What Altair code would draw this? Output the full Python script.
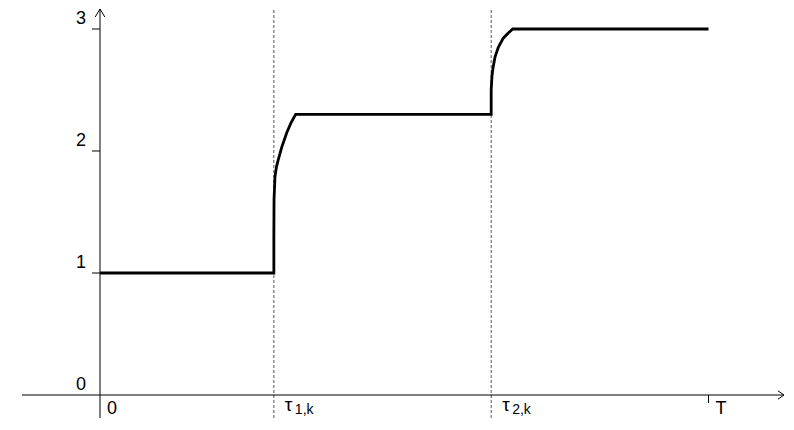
import altair as alt
import pandas as pd

FONT = "Liberation Sans"

# ---- values ----
T_END = 7.0
TAUS = [2.0, 4.5]
TAU_SUBS = ["1,k", "2,k"]
Y_TICKS = [1, 2, 3]
Y_LABEL_VALUES = [0, 1, 2, 3]
Y_LABELS = ["0", "1", "2", "3"]
X_NUM_VALUES = [0.0, 7.0]
X_NUM_LABELS = ["0", "T"]

CURVE_T = [0.0, 2.0, 2.0, 2.002, 2.013, 2.03, 2.051, 2.09, 2.148, 2.197, 2.251,
           4.5, 4.5, 4.509, 4.521, 4.544, 4.582, 4.639, 4.694, 4.748, 7.0]
CURVE_Y = [1.0, 1.0, 1.27, 1.60, 1.79, 1.87, 1.93, 2.03, 2.15, 2.23, 2.30,
           2.30, 2.50, 2.615, 2.68, 2.77, 2.85, 2.925, 2.965, 3.0, 3.0]

X_DOMAIN = [-1.0583, 7.8914]
Y_DOMAIN = [-0.1885, 3.1721]
X_AXIS_RANGE = [-0.897, 7.868]
Y_AXIS_RANGE = [-0.1885, 3.164]
GUIDE_RANGE = [-0.1885, 3.1721]

xs = alt.Scale(domain=X_DOMAIN, nice=False, zero=False)
ys = alt.Scale(domain=Y_DOMAIN, nice=False, zero=False)


def X(f):
    return alt.X(f, type="quantitative", scale=xs, axis=None)


def Y(f):
    return alt.Y(f, type="quantitative", scale=ys, axis=None)


# dashed guides at tau
guides = pd.DataFrame({"t": TAUS, "y0": GUIDE_RANGE[0], "y1": GUIDE_RANGE[1]})
guide_layer = alt.Chart(guides).mark_rule(
    color="#555555", strokeWidth=1, strokeDash=[3, 2]
).encode(x=X("t"), y=Y("y0"), y2="y1")

# axes lines
xaxis = pd.DataFrame({"x0": [X_AXIS_RANGE[0]], "x1": [X_AXIS_RANGE[1]], "y": [0.0]})
xaxis_layer = alt.Chart(xaxis).mark_rule(color="black", strokeWidth=1).encode(
    x=X("x0"), x2="x1", y=Y("y"))
yaxis = pd.DataFrame({"x": [0.0], "y0": [Y_AXIS_RANGE[0]], "y1": [Y_AXIS_RANGE[1]]})
yaxis_layer = alt.Chart(yaxis).mark_rule(color="black", strokeWidth=1).encode(
    x=X("x"), y=Y("y0"), y2="y1")

# arrow heads
xarrow = pd.DataFrame({"x": [X_AXIS_RANGE[1]], "y": [0.0]})
xarrow_layer = alt.Chart(xarrow).mark_point(
    shape="M-1,-0.7L0,0L-1,0.7", size=144, filled=False, color="black",
    strokeWidth=1, opacity=1).encode(x=X("x"), y=Y("y"))
yarrow = pd.DataFrame({"x": [0.0], "y": [Y_AXIS_RANGE[1]]})
yarrow_layer = alt.Chart(yarrow).mark_point(
    shape="M-0.6,1L0,0L0.6,1", size=256, filled=False, color="black",
    strokeWidth=1, opacity=1).encode(x=X("x"), y=Y("y"))

# y ticks
yt = pd.DataFrame({"x": 0.0, "y": Y_TICKS})
ytick_layer = alt.Chart(yt).mark_rule(color="black", strokeWidth=1, x2Offset=-8).encode(
    x=X("x"), x2="x", y=Y("y"))
# T tick
tt = pd.DataFrame({"x": [T_END], "y": [0.0]})
ttick_layer = alt.Chart(tt).mark_rule(color="black", strokeWidth=1, y2Offset=8).encode(
    x=X("x"), y=Y("y"), y2="y")

# curve
curve = pd.DataFrame({"t": CURVE_T, "v": CURVE_Y, "i": range(len(CURVE_T))})
curve_layer = alt.Chart(curve).mark_line(
    color="black", strokeWidth=2.8, strokeJoin="miter", interpolate="linear"
).encode(x=X("t"), y=Y("v"), order="i:Q")

# labels
ylab = pd.DataFrame({"x": 0.0, "y": Y_LABEL_VALUES, "lab": Y_LABELS})
ylab_layer = alt.Chart(ylab).mark_text(
    font=FONT, fontSize=18, align="right", baseline="alphabetic", dx=-14, dy=-5,
    color="black").encode(x=X("x"), y=Y("y"), text="lab:N")

xlab = pd.DataFrame({"x": X_NUM_VALUES, "y": 0.0, "lab": X_NUM_LABELS})
xlab_layer = alt.Chart(xlab).mark_text(
    font=FONT, fontSize=18, align="left", baseline="alphabetic", dx=7, dy=19,
    color="black").encode(x=X("x"), y=Y("y"), text="lab:N")

taulab = pd.DataFrame({"x": TAUS, "y": 0.0, "lab": ["τ", "τ"], "sub": TAU_SUBS})
tau_layer = alt.Chart(taulab).mark_text(
    font=FONT, fontSize=19, align="left", baseline="alphabetic", dx=11, dy=16,
    color="black").encode(x=X("x"), y=Y("y"), text="lab:N")
sub_layer = alt.Chart(taulab).mark_text(
    font=FONT, fontSize=14, align="left", baseline="alphabetic", dx=21, dy=19,
    color="black").encode(x=X("x"), y=Y("y"), text="sub:N")

chart = alt.layer(
    guide_layer, xaxis_layer, yaxis_layer, xarrow_layer, yarrow_layer,
    ytick_layer, ttick_layer, curve_layer, ylab_layer, xlab_layer, tau_layer, sub_layer
).properties(
    width=778, height=410, autosize=alt.AutoSizeParams(type="none"), padding=0
).configure_view(stroke=None)

chart.save("out.html", embed_options={"renderer": "svg", "actions": False})
